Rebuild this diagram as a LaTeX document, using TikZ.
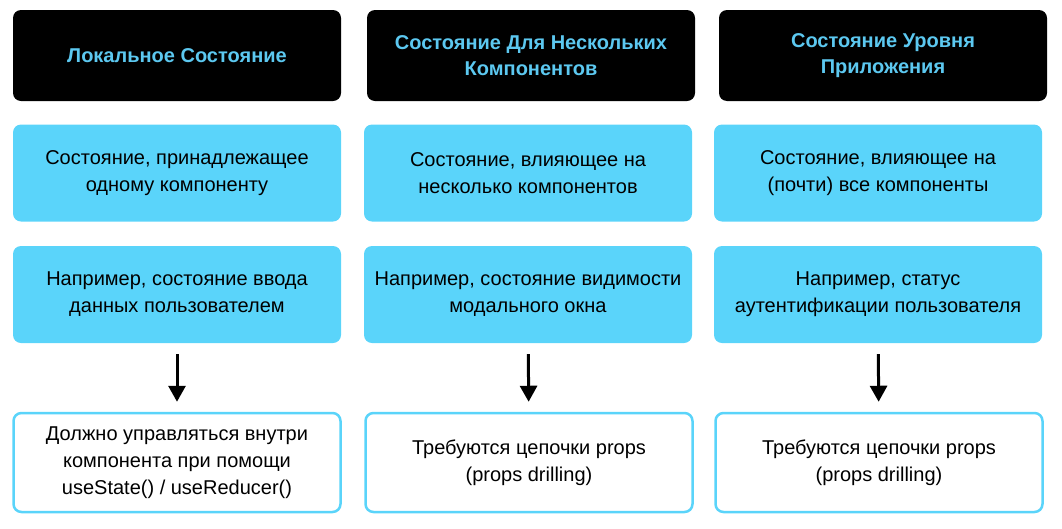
\documentclass[tikz,border=0pt]{standalone}
\usepackage{fontspec}
\setmainfont{Liberation Sans}
\usetikzlibrary{positioning,arrows.meta}
\definecolor{skyblue}{RGB}{90,212,250}
\definecolor{headtext}{RGB}{92,200,240}
\begin{document}
\begin{tikzpicture}[x=1pt,y=-1pt,
  head/.style={rectangle, rounded corners=8pt, fill=black, text=headtext, font=\fontsize{20}{26}\selectfont\bfseries, align=center, minimum width=328pt, minimum height=91pt},
  info/.style={rectangle, rounded corners=8pt, fill=skyblue, text=black, font=\fontsize{20}{27}\selectfont, align=center, minimum width=328pt, minimum height=97pt},
  result/.style={rectangle, rounded corners=8pt, draw=skyblue, line width=2.5pt, fill=white, font=\fontsize{20}{27}\selectfont, align=center, minimum width=327pt, minimum height=99pt},
  flow/.style={-{Triangle[width=17pt,length=16pt]}, line width=3pt, shorten <=11pt, shorten >=10pt}]

\useasboundingbox (0,0) rectangle (1062,528);

\node[head] (h1) at (177,55.5) {Локальное Состояние};
\node[head] (h2) at (531,55.5) {Состояние Для Нескольких\\Компонентов};
\node[head] (h3) at (883,55.5) {Состояние Уровня\\Приложения};

\node[info] (d1) at (177,173) {Состояние, принадлежащее\\одному компоненту};
\node[info] (d2) at (528,173) {Состояние, влияющее на\\несколько компонентов};
\node[info] (d3) at (878,173) {Состояние, влияющее на\\(почти) все компоненты};

\node[info] (e1) at (177,294.5) {Например, состояние ввода\\данных пользователем};
\node[info] (e2) at (528,294.5) {Например, состояние видимости\\модального окна};
\node[info] (e3) at (878,294.5) {Например, статус\\аутентификации пользователя};

\node[result] (r1) at (177,462.5) {Должно управляться внутри\\компонента при помощи\\useState() / useReducer()};
\node[result] (r2) at (529,462.5) {Требуются цепочки props\\(props drilling)};
\node[result] (r3) at (879,462.5) {Требуются цепочки props\\(props drilling)};

\draw[flow] (e1) -- (r1);
\draw[flow] (e2) -- (r2);
\draw[flow] (e3) -- (r3);

\end{tikzpicture}
\end{document}
